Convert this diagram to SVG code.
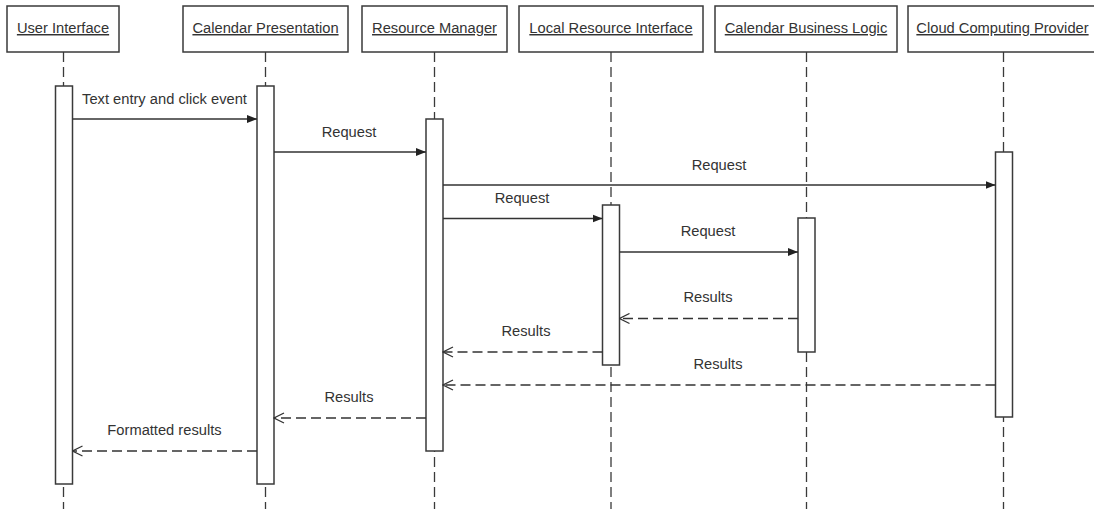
<svg xmlns="http://www.w3.org/2000/svg" width="1094" height="509" viewBox="0 0 1094 509">
  <style>
    .head { fill: #ffffff; stroke: #3a3a3a; stroke-width: 1.5; }
    .head-label { font-family: "Liberation Sans", Arial, sans-serif; font-size: 14.7px; fill: #333333; text-anchor: middle; text-decoration: underline; }
    .lifeline { stroke: #3a3a3a; stroke-width: 1.3; stroke-dasharray: 10 5; fill: none; }
    .bar { fill: #ffffff; stroke: #3a3a3a; stroke-width: 1.5; }
    .call { stroke: #333333; stroke-width: 1.3; fill: none; marker-end: url(#solid-head); }
    .reply { stroke: #333333; stroke-width: 1.3; fill: none; stroke-dasharray: 10 5; marker-end: url(#open-head); }
    .msg-label { font-family: "Liberation Sans", Arial, sans-serif; font-size: 14.7px; fill: #333333; text-anchor: middle; }
  </style>
  <defs>
    <marker id="solid-head" markerUnits="userSpaceOnUse" markerWidth="10" markerHeight="10" refX="10" refY="5" orient="auto">
      <path d="M0,1 L10,5 L0,9 Z" fill="#222222"/>
    </marker>
    <marker id="open-head" markerUnits="userSpaceOnUse" markerWidth="12" markerHeight="12" refX="11" refY="6" orient="auto">
      <path d="M1,1 L11,6 L1,11" fill="none" stroke="#333333" stroke-width="1.3"/>
    </marker>
  </defs>

  <rect width="1094" height="509" fill="#ffffff"/>

  <!-- lifelines -->
  <g id="lifelines">
    <line class="lifeline" x1="63.5" y1="52" x2="63.5" y2="509"/>
    <line class="lifeline" x1="265.5" y1="52" x2="265.5" y2="509"/>
    <line class="lifeline" x1="434.5" y1="52" x2="434.5" y2="509"/>
    <line class="lifeline" x1="611" y1="52" x2="611" y2="509"/>
    <line class="lifeline" x1="806.5" y1="52" x2="806.5" y2="509"/>
    <line class="lifeline" x1="1003.5" y1="52" x2="1003.5" y2="509"/>
  </g>

  <!-- participants with their activation bars -->
  <g id="user-interface">
    <rect class="head" x="7" y="6" width="112" height="46"/>
    <text class="head-label" x="63" y="33">User Interface</text>
    <rect class="bar" x="55.5" y="86" width="17" height="398"/>
  </g>
  <g id="calendar-presentation">
    <rect class="head" x="183" y="6" width="165" height="46"/>
    <text class="head-label" x="265.5" y="33">Calendar Presentation</text>
    <rect class="bar" x="257" y="86" width="17" height="398"/>
  </g>
  <g id="resource-manager">
    <rect class="head" x="362" y="6" width="145" height="46"/>
    <text class="head-label" x="434.5" y="33">Resource Manager</text>
    <rect class="bar" x="426" y="119" width="17" height="332"/>
  </g>
  <g id="local-resource-interface">
    <rect class="head" x="519" y="6" width="184" height="46"/>
    <text class="head-label" x="611" y="33">Local Resource Interface</text>
    <rect class="bar" x="602.5" y="205" width="17" height="160"/>
  </g>
  <g id="calendar-business-logic">
    <rect class="head" x="715" y="6" width="182" height="46"/>
    <text class="head-label" x="806" y="33">Calendar Business Logic</text>
    <rect class="bar" x="798" y="218" width="17" height="134"/>
  </g>
  <g id="cloud-computing-provider">
    <rect class="head" x="908" y="6" width="190" height="46"/>
    <text class="head-label" x="1002.5" y="33">Cloud Computing Provider</text>
    <rect class="bar" x="995.5" y="152" width="17" height="265"/>
  </g>

  <!-- messages -->
  <g id="connectors">
    <line class="call" x1="72.5" y1="119" x2="257" y2="119"/>
    <text class="msg-label" x="164.5" y="104">Text entry and click event</text>

    <line class="call" x1="274" y1="152" x2="426" y2="152"/>
    <text class="msg-label" x="349" y="137">Request</text>

    <line class="call" x1="443" y1="185" x2="995.5" y2="185"/>
    <text class="msg-label" x="719" y="170">Request</text>

    <line class="call" x1="443" y1="218.5" x2="602.5" y2="218.5"/>
    <text class="msg-label" x="522" y="203">Request</text>

    <line class="call" x1="619.5" y1="252" x2="798" y2="252"/>
    <text class="msg-label" x="708" y="236">Request</text>

    <line class="reply" x1="798" y1="318.5" x2="619.5" y2="318.5"/>
    <text class="msg-label" x="708" y="302">Results</text>

    <line class="reply" x1="602.5" y1="352" x2="443" y2="352"/>
    <text class="msg-label" x="526" y="336">Results</text>

    <line class="reply" x1="995.5" y1="385" x2="443" y2="385"/>
    <text class="msg-label" x="718" y="369">Results</text>

    <line class="reply" x1="426" y1="418" x2="274" y2="418"/>
    <text class="msg-label" x="349" y="402">Results</text>

    <line class="reply" x1="257" y1="451" x2="72.5" y2="451"/>
    <text class="msg-label" x="164.5" y="435">Formatted results</text>
  </g>
</svg>
